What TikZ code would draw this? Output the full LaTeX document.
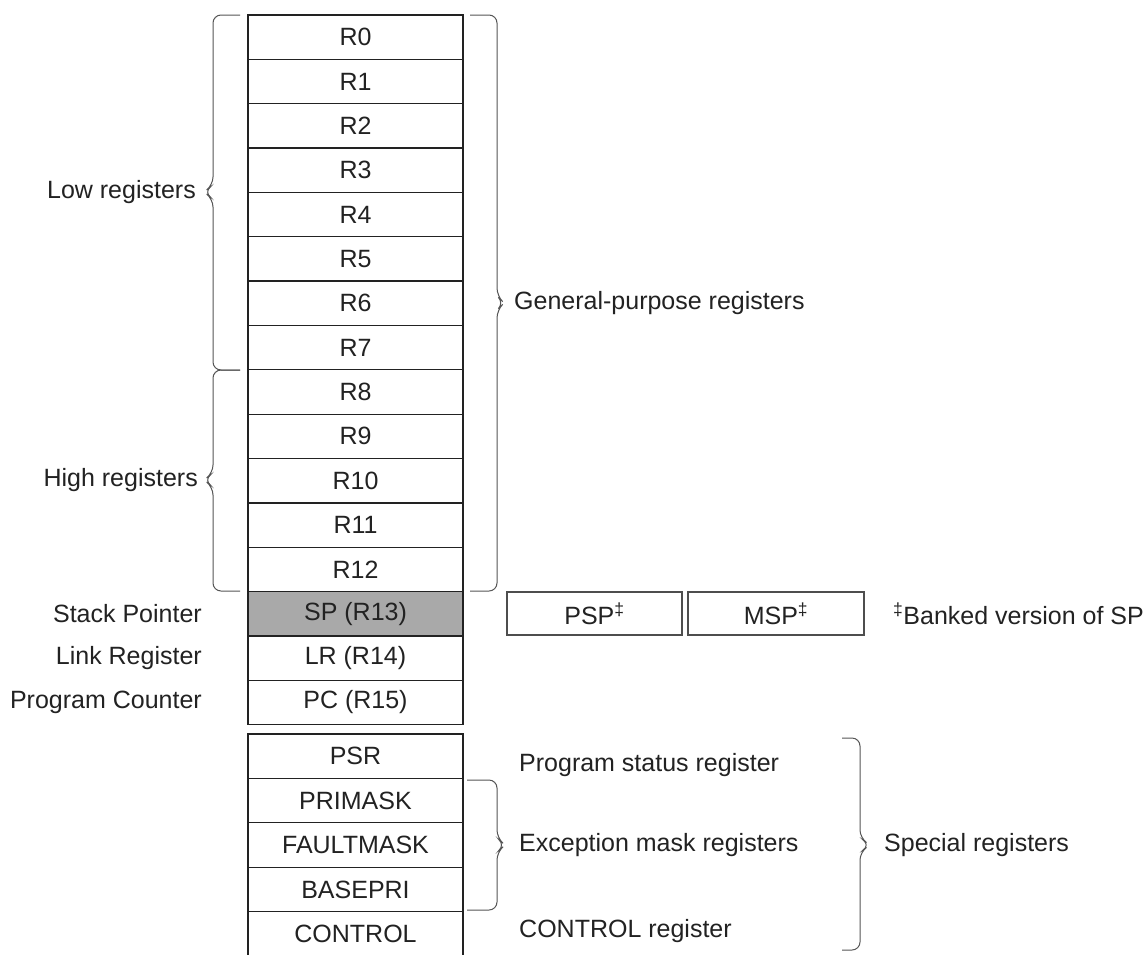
\documentclass[tikz,border=0pt]{standalone}
\usepackage{fontspec}
\setmainfont{Liberation Sans}
\definecolor{ink}{HTML}{222222}
\definecolor{brc}{HTML}{555555}
\definecolor{spfill}{HTML}{A9A9A9}
\tikzset{
  regbox/.style={draw=ink, line width=1.3pt, minimum width=215pt, minimum height=44.35pt, inner sep=0pt, text=ink, font=\fontsize{25}{29}\selectfont},
  bankbox/.style={draw=ink!80, line width=1.1pt, minimum width=175pt, minimum height=43pt, inner sep=0pt, text=ink, font=\fontsize{25}{29}\selectfont},
  lbl/.style={text=ink, inner sep=0pt, font=\fontsize{25}{29}\selectfont},
  brace/.style={draw=brc, line width=1pt, rounded corners=8pt}
}
\begin{document}
\begin{tikzpicture}[x=1pt,y=-1pt]
\clip (0,0) rectangle (1148,954);
\fill[white] (0,0) rectangle (1148,954);
% general purpose registers
\foreach \i in {0,...,12}
  \node[regbox] (r\i) at (355.5,{15+44.35*(\i+0.5)}) {R\i};
\node[regbox, fill=spfill] (sp) at (355.5,{15+44.35*13.5}) {SP (R13)};
\node[regbox] (lr) at (355.5,{15+44.35*14.5}) {LR (R14)};
\node[regbox] (pc) at (355.5,{15+44.35*15.5}) {PC (R15)};
% special registers
\node[regbox] (psr) at (355.5,{734+44.4*0.5}) {PSR};
\node[regbox] (primask) at (355.5,{734+44.4*1.5}) {PRIMASK};
\node[regbox] (faultmask) at (355.5,{734+44.4*2.5}) {FAULTMASK};
\node[regbox] (basepri) at (355.5,{734+44.4*3.5}) {BASEPRI};
\node[regbox] (control) at (355.5,{734+44.4*4.5}) {CONTROL};
% banked SP
\node[bankbox] (psp) at (594.5,613.5) {PSP\textsuperscript{‡}};
\node[bankbox, minimum width=176pt] (msp) at (776,613.5) {MSP\textsuperscript{‡}};
\node[lbl, anchor=west] (banked) at (893,613.5) {\textsuperscript{‡}Banked version of SP};
% left labels
\node[lbl, anchor=east] (low) at (196,192) {Low registers};
\node[lbl, anchor=east] (high) at (198,480) {High registers};
\node[lbl, anchor=east] (spl) at (202,613.5) {Stack Pointer};
\node[lbl, anchor=east] (lrl) at (202,658) {Link Register};
\node[lbl, anchor=east] (pcl) at (202,702) {Program Counter};
% right labels
\node[lbl, anchor=west] (gpl) at (514,303) {General-purpose registers};
\node[lbl, anchor=west] (psrl) at (519,765) {Program status register};
\node[lbl, anchor=west] (exl) at (519,845) {Exception mask registers};
\node[lbl, anchor=west] (ctl) at (519,931) {CONTROL register};
\node[lbl, anchor=west] (spcl) at (884,845) {Special registers};
% braces
\draw[brace] (240,15) -- (213,15) -- (213,185) -- (204,192) -- (213,199) -- (213,370) -- (240,370);
\draw[brace] (240,370) -- (213,370) -- (213,473) -- (204,480) -- (213,487) -- (213,591) -- (240,591);
\draw[brace] (470,15) -- (497,15) -- (497,296) -- (504,303) -- (497,310) -- (497,591) -- (470,591);
\draw[brace] (467,780) -- (497,780) -- (497,838) -- (505,845) -- (497,852) -- (497,910) -- (467,910);
\draw[brace] (842,738) -- (860,738) -- (860,838) -- (870,845) -- (860,852) -- (860,950) -- (842,950);
\end{tikzpicture}
\end{document}
